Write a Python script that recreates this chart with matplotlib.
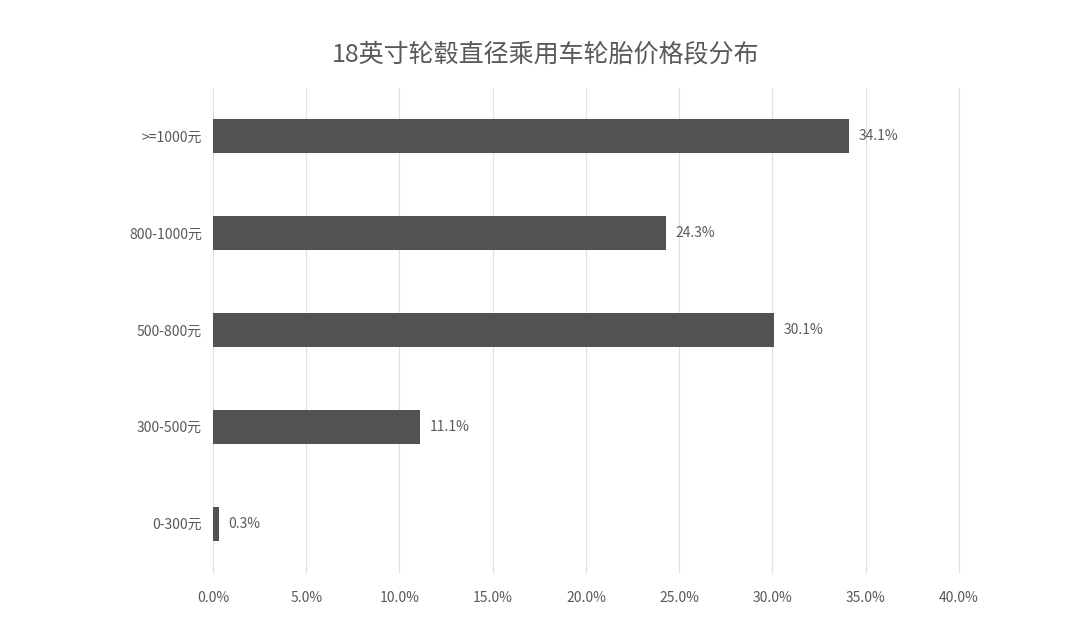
import matplotlib.pyplot as plt
from matplotlib.ticker import FuncFormatter, MultipleLocator

plt.rcParams['font.family'] = ['Noto Sans CJK SC', 'DejaVu Sans']

categories = ['0-300元', '300-500元', '500-800元', '800-1000元', '>=1000元']
shares = [0.3, 11.1, 30.1, 24.3, 34.1]

text_color = '#595959'
bar_color = '#525252'

fig = plt.figure(figsize=(10.8, 6.39), dpi=100)
ax = fig.add_axes([0.1972, 0.1049, 0.6907, 0.7574])

ax.barh(categories, shares, height=0.35, color=bar_color, zorder=3)
for i, v in enumerate(shares):
    ax.text(v + 0.5, i, f'{v:.1f}%', va='center', ha='left',
            fontsize=10, color=text_color)

ax.set_xlim(0, 40)
ax.set_ylim(-0.5, 4.5)
ax.xaxis.set_major_locator(MultipleLocator(5))
ax.xaxis.set_major_formatter(FuncFormatter(lambda x, _: f'{x:.1f}%'))
ax.grid(axis='x', color='#e0e0e0', linewidth=0.9, zorder=0)
for line in ax.get_xgridlines():
    line.set_clip_on(False)
for s in ax.spines.values():
    s.set_visible(False)
ax.tick_params(axis='both', length=0, labelsize=10, colors=text_color)
ax.tick_params(axis='x', pad=14)
ax.tick_params(axis='y', pad=8)

fig.text(0.505, 0.915, '18英寸轮毂直径乘用车轮胎价格段分布', ha='center', va='center',
         fontsize=18, color=text_color)

fig.savefig('out.png', dpi=100, facecolor='white')
